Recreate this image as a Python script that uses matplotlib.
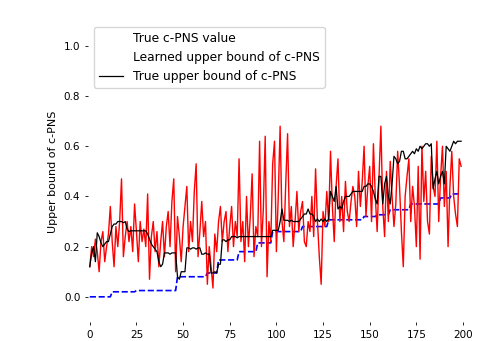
import numpy as np
import matplotlib
matplotlib.use("Agg")
from matplotlib import pyplot as plt

# true c-PNS value: step levels and how many samples each level lasts
true_levels = [0.0, 0.02, 0.025, 0.08, 0.095, 0.147, 0.18, 0.215, 0.26, 0.28,
               0.307, 0.32, 0.327, 0.347, 0.37, 0.394, 0.41]
true_runs = [12, 13, 22, 16, 6, 11, 10, 8, 16, 14, 19, 7, 7, 11, 16, 6, 6]

learned_upper = [
    0.12, 0.20, 0.16, 0.23, 0.18, 0.10, 0.22, 0.26, 0.14, 0.20,
    0.25, 0.36, 0.22, 0.12, 0.28, 0.20, 0.30, 0.47, 0.16, 0.24,
    0.30, 0.22, 0.28, 0.18, 0.37, 0.26, 0.14, 0.30, 0.22, 0.27,
    0.20, 0.41, 0.07, 0.24, 0.30, 0.18, 0.26, 0.12, 0.22, 0.30,
    0.16, 0.28, 0.34, 0.20, 0.38, 0.47, 0.10, 0.32, 0.24, 0.14,
    0.28, 0.36, 0.44, 0.18, 0.30, 0.22, 0.42, 0.53, 0.16, 0.26,
    0.38, 0.24, 0.30, 0.05, 0.20, 0.12, 0.035, 0.25, 0.18, 0.30,
    0.36, 0.22, 0.30, 0.34, 0.18, 0.28, 0.36, 0.20, 0.30, 0.24,
    0.55, 0.22, 0.30, 0.14, 0.40, 0.20, 0.32, 0.49, 0.16, 0.28,
    0.24, 0.62, 0.20, 0.35, 0.64, 0.08, 0.30, 0.22, 0.53, 0.62,
    0.18, 0.40, 0.68, 0.30, 0.22, 0.45, 0.65, 0.28, 0.36, 0.20,
    0.30, 0.42, 0.26, 0.34, 0.38, 0.22, 0.20, 0.30, 0.26, 0.40,
    0.24, 0.51, 0.30, 0.16, 0.05, 0.34, 0.28, 0.42, 0.30, 0.58,
    0.36, 0.22, 0.44, 0.55, 0.30, 0.40, 0.26, 0.46, 0.34, 0.30,
    0.38, 0.44, 0.40, 0.28, 0.50, 0.36, 0.46, 0.60, 0.32, 0.44,
    0.52, 0.30, 0.61, 0.40, 0.26, 0.48, 0.68, 0.36, 0.24, 0.50,
    0.30, 0.54, 0.40, 0.28, 0.37, 0.58, 0.44, 0.26, 0.12, 0.40,
    0.48, 0.55, 0.30, 0.44, 0.36, 0.20, 0.52, 0.15, 0.60, 0.38,
    0.50, 0.30, 0.25, 0.56, 0.44, 0.40, 0.62, 0.30, 0.48, 0.60,
    0.36, 0.50, 0.20, 0.44, 0.58, 0.40, 0.33, 0.28, 0.55, 0.52,
]

true_upper = [
    0.12, 0.175, 0.20, 0.14, 0.255, 0.24, 0.215, 0.20, 0.21, 0.22,
    0.22, 0.25, 0.28, 0.29, 0.29, 0.30, 0.30, 0.30, 0.295, 0.30,
    0.27, 0.26, 0.263, 0.263, 0.263, 0.263, 0.263, 0.263, 0.263, 0.263,
    0.263, 0.25, 0.23, 0.21, 0.20, 0.19, 0.18, 0.14, 0.12, 0.13,
    0.175, 0.175, 0.175, 0.17, 0.175, 0.175, 0.175, 0.08, 0.07, 0.10,
    0.10, 0.10, 0.195, 0.195, 0.19, 0.195, 0.195, 0.19, 0.195, 0.195,
    0.17, 0.17, 0.175, 0.17, 0.17, 0.095, 0.095, 0.10, 0.095, 0.13,
    0.13, 0.227, 0.227, 0.22, 0.227, 0.227, 0.24, 0.24, 0.24, 0.235,
    0.24, 0.24, 0.24, 0.24, 0.24, 0.24, 0.24, 0.24, 0.24, 0.24,
    0.24, 0.24, 0.24, 0.24, 0.24, 0.24, 0.24, 0.24, 0.265, 0.265,
    0.265, 0.265, 0.30, 0.35, 0.305, 0.305, 0.305, 0.30, 0.305, 0.30,
    0.30, 0.30, 0.30, 0.31, 0.32, 0.33, 0.33, 0.35, 0.33, 0.33,
    0.32, 0.30, 0.31, 0.30, 0.31, 0.30, 0.31, 0.30, 0.31, 0.42,
    0.40, 0.38, 0.44, 0.35, 0.36, 0.35, 0.38, 0.40, 0.40, 0.40,
    0.41, 0.42, 0.42, 0.42, 0.42, 0.42, 0.42, 0.44, 0.44, 0.45,
    0.45, 0.44, 0.42, 0.39, 0.37, 0.48, 0.48, 0.37, 0.45, 0.48,
    0.40, 0.37, 0.45, 0.56, 0.55, 0.53, 0.54, 0.58, 0.58, 0.55,
    0.55, 0.56, 0.57, 0.58, 0.57, 0.59, 0.58, 0.60, 0.59, 0.60,
    0.61, 0.61, 0.60, 0.61, 0.43, 0.47, 0.50, 0.45, 0.48, 0.50,
    0.45, 0.60, 0.59, 0.58, 0.60, 0.62, 0.61, 0.62, 0.62, 0.62,
]

true_value = np.repeat(true_levels, true_runs)
x = np.arange(len(learned_upper))

fig = plt.figure(figsize=(4.94, 3.41), dpi=100)
ax = fig.add_axes([0.178, 0.056, 0.763, 0.883])
ax.plot(x, true_value, color="blue", linestyle="--", linewidth=1.2, label="True c-PNS value")
ax.plot(x, learned_upper, color="red", linewidth=1.0, label="Learned upper bound of c-PNS")
ax.plot(x, true_upper, color="black", linewidth=0.9, label="True upper bound of c-PNS")

ax.set_xlim(-1, 201)
ax.set_ylim(-0.1, 1.1)
ax.set_yticks([0.0, 0.2, 0.4, 0.6, 0.8, 1.0])
ax.set_xticks([0, 25, 50, 75, 100, 125, 150, 175, 200])
for s in ax.spines.values():
    s.set_visible(False)
ax.tick_params(labelsize=7.5, length=2, width=0.6)
ax.set_ylabel("Upper bound of c-PNS", fontsize=8)
ax.set_xlabel("Sample index", fontsize=8)
leg = ax.legend(loc="upper left", fontsize=8.8, frameon=True)
# the first two legend handles are not visible in the reference
for h in leg.get_lines()[:2]:
    h.set_visible(False)

fig.savefig("out.png", dpi=100)
